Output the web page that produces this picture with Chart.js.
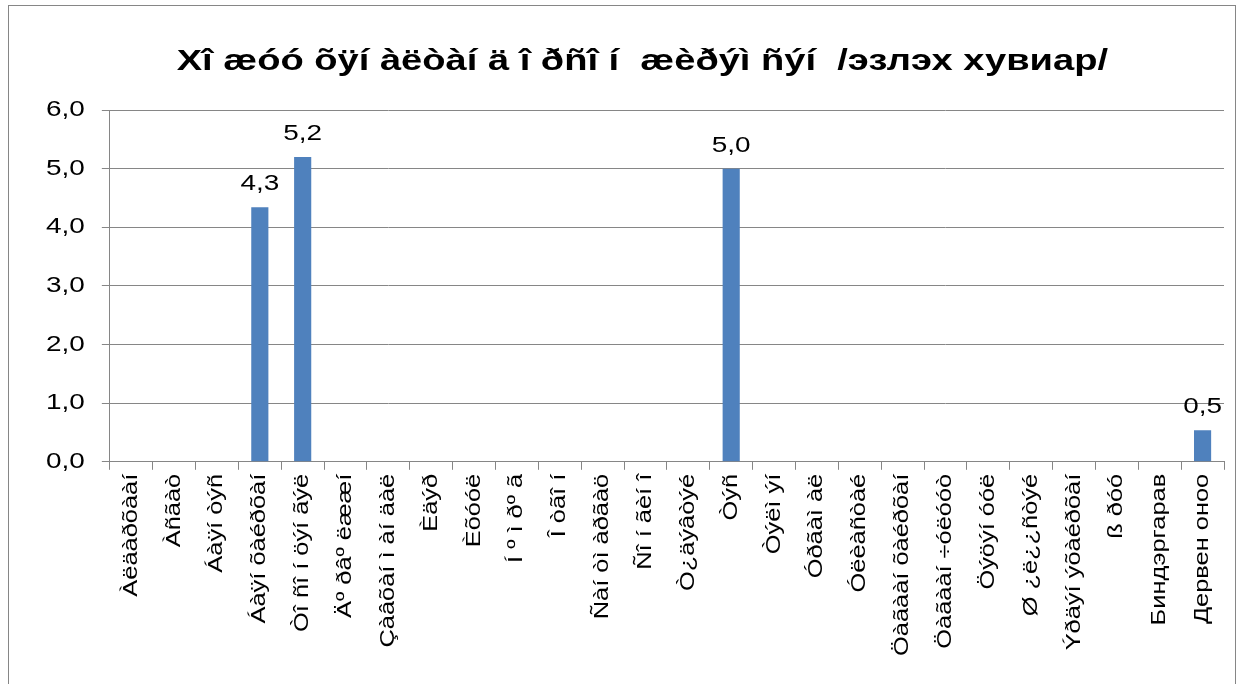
<!DOCTYPE html>
<html>
<head>
<meta charset="utf-8">
<script src="https://cdn.jsdelivr.net/npm/chart.js@4.4.1/dist/chart.umd.min.js"></script>
<style>
  html, body { margin: 0; padding: 0; background: #fff; }
  #wrap { position: relative; width: 1241px; height: 684px; overflow: hidden; }
  #frame { position: absolute; left: 8px; top: 5px; width: 1228px; height: 720px; border: 1px solid #868686; box-sizing: border-box; }
  canvas { position: absolute; left: 0; top: 0; }
</style>
</head>
<body>
<div id="wrap">
  <div id="frame"></div>
  <canvas id="grafica" width="1241" height="684"></canvas>
</div>
<script>
const titulo = '   Xî æóó õÿí àëòàí ä î ðñî í  æèðýì ñýí  /эзлэх хувиар/';

const sumууд = [
  'Àëäàðõààí', 'Àñãàò', 'Áàÿí òýñ', 'Áàÿí õàéðõàí', 'Òî ñî í öýí ãýë',
  'Äº ðâº ëææí', 'Çàâõàí ì àí äàë', 'Èäýð', 'Èõóóë', 'Í º ì ðº ã',
  'Î òãî í', 'Ñàí òì àðãàö', 'Ñî í ãèí î', 'Ò¿äýâòýé', 'Òýñ',
  'Òýëì ýí', 'Óðãàì àë', 'Óëèàñòàé', 'Öàãààí õàéðõàí', 'Öàãààí ÷óëóóò',
  'Öýöýí óóë', 'Ø ¿ë¿¿ñòýé', 'Ýðäýí ýõàéðõàí', 'ß ðóó', 'Биндэргарав', 'Дервен оноо'
];

const huvi = [
  0, 0, 0, 4.34, 5.2,
  0, 0, 0, 0, 0,
  0, 0, 0, 0, 5.0,
  0, 0, 0, 0, 0,
  0, 0, 0, 0, 0, 0.54
];

const yTicks = [0, 1, 2, 3, 4, 5, 6];

const fmt = v => v.toFixed(1).replace('.', ',');
const FONT = '"Liberation Sans", Arial, sans-serif';

const ctx = document.getElementById('grafica').getContext('2d');

// эх зурагт бичвэр хэвтээ чиглэлд сунасан байгаа тул текстийг сунгана
const SUNGALT = 1.27;
const origFill = ctx.fillText.bind(ctx);
const origMeasure = ctx.measureText.bind(ctx);
ctx.fillText = function (text, x, y, maxWidth) {
  this.save();
  this.translate(x, y);
  this.scale(SUNGALT, 1);
  origFill(text, 0, 0);
  this.restore();
};
ctx.measureText = function (text) {
  const m = origMeasure(text);
  return {
    width: m.width * SUNGALT,
    actualBoundingBoxAscent: m.actualBoundingBoxAscent,
    actualBoundingBoxDescent: m.actualBoundingBoxDescent,
    actualBoundingBoxLeft: m.actualBoundingBoxLeft * SUNGALT,
    actualBoundingBoxRight: m.actualBoundingBoxRight * SUNGALT
  };
};

// тоон утга баганын дээр
const shoshgo = {
  id: 'shoshgo',
  afterDatasetsDraw(chart) {
    const c = chart.ctx;
    const meta = chart.getDatasetMeta(0);
    c.save();
    c.font = '22px ' + FONT;
    c.fillStyle = '#000';
    c.textAlign = 'center';
    c.textBaseline = 'alphabetic';
    meta.data.forEach((bar, i) => {
      if (!huvi[i]) return;
      c.fillText(fmt(huvi[i]), bar.x, bar.y - 17);
    });
    c.restore();
  }
};

new Chart(ctx, {
  type: 'bar',
  data: {
    labels: sumууд,
    datasets: [{
      data: huvi,
      backgroundColor: '#4F81BD',
      barPercentage: 0.4,
      categoryPercentage: 1.0
    }]
  },
  options: {
    responsive: false,
    animation: false,
    devicePixelRatio: 1,
    layout: { padding: { top: 20, left: 29, right: 17, bottom: 24 } },
    plugins: {
      legend: { display: false },
      tooltip: { enabled: false },
      title: {
        display: true,
        text: titulo,
        color: '#000',
        font: { family: FONT, size: 30, weight: 'bold' },
        padding: { top: 24, bottom: 30 }
      }
    },
    scales: {
      x: {
        offset: true,
        grid: { offset: true, drawOnChartArea: false, color: '#868686', tickLength: 8 },
        border: { color: '#868686' },
        ticks: {
          autoSkip: false,
          maxRotation: 90,
          minRotation: 90,
          color: '#000',
          padding: 4,
          font: { family: FONT, size: 20 }
        }
      },
      y: {
        min: 0,
        max: 6,
        afterBuildTicks: axis => { axis.ticks = yTicks.map(v => ({ value: v })); },
        grid: { color: '#868686', tickLength: 8 },
        border: { color: '#868686' },
        ticks: {
          color: '#000',
          padding: 17,
          font: { family: FONT, size: 22 },
          callback: v => fmt(v)
        }
      }
    }
  },
  plugins: [shoshgo]
});
</script>
</body>
</html>
